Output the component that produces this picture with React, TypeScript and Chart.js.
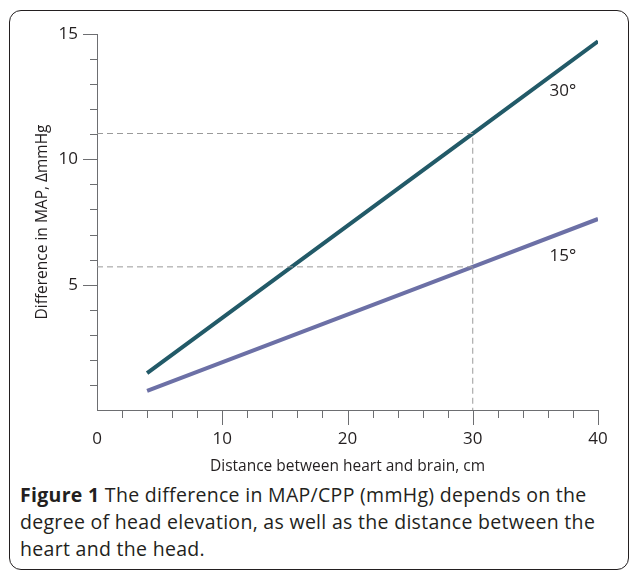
import React, { useEffect, useRef } from "react";
import { Chart, registerables } from "chart.js";

Chart.register(...registerables);

// Data
const distances = [4, 30, 40];
const diff30 = [1.47, 11.03, 14.71];
const diff15 = [0.76, 5.71, 7.62];
const refDistance = 30;
const refValues = [11.03, 5.71];
const angleLabels = ["30°", "15°"];
const angleLabelPos = [
  { x: 37.2, y: 12.7 },
  { x: 37.2, y: 6.15 },
];
const xMajorTicks = [0, 10, 20, 30, 40];
const yMajorTicks = [5, 10, 15];

const FONT = "'Open Sans', 'Noto Sans', sans-serif";
const TEXT = "#231f20";

const tickPlugin = {
  id: "customTicks",
  afterDraw(chart: any) {
    const { ctx } = chart;
    const xs = chart.scales.x;
    const ys = chart.scales.y;
    const axisY = ys.getPixelForValue(0);
    const axisX = xs.getPixelForValue(0);
    ctx.save();
    ctx.strokeStyle = "#6d6e71";
    ctx.lineWidth = 1;
    for (let v = 2; v <= 40; v += 2) {
      const px = Math.round(xs.getPixelForValue(v)) + 0.5;
      const len = xMajorTicks.includes(v) ? 15 : 8;
      ctx.beginPath();
      ctx.moveTo(px, axisY);
      ctx.lineTo(px, axisY + len);
      ctx.stroke();
    }
    for (let v = 1; v <= 15; v += 1) {
      const py = Math.round(ys.getPixelForValue(v)) + 0.5;
      const len = yMajorTicks.includes(v) ? 14 : 7;
      ctx.beginPath();
      ctx.moveTo(axisX, py);
      ctx.lineTo(axisX - len, py);
      ctx.stroke();
    }
    ctx.fillStyle = TEXT;
    ctx.font = `17px ${FONT}`;
    ctx.textAlign = "center";
    ctx.textBaseline = "middle";
    angleLabels.forEach((t, i) => {
      ctx.fillText(
        t,
        xs.getPixelForValue(angleLabelPos[i].x),
        ys.getPixelForValue(angleLabelPos[i].y)
      );
    });
    ctx.restore();
  },
};

export default function App() {
  const canvasRef = useRef<HTMLCanvasElement | null>(null);

  useEffect(() => {
    document.body.style.margin = "0";
    const canvas = canvasRef.current;
    if (!canvas) return;
    const dash = [6, 4];
    const chart = new Chart(canvas, {
      type: "line",
      data: {
        datasets: [
          {
            label: "ref30",
            data: [
              { x: 0, y: refValues[0] },
              { x: refDistance, y: refValues[0] },
              { x: refDistance, y: 0 },
            ],
            borderColor: "#9a9a9a",
            borderWidth: 1,
            borderDash: dash,
            pointRadius: 0,
            fill: false,
          },
          {
            label: "ref15",
            data: [
              { x: 0, y: refValues[1] },
              { x: refDistance, y: refValues[1] },
            ],
            borderColor: "#9a9a9a",
            borderWidth: 1,
            borderDash: dash,
            pointRadius: 0,
            fill: false,
          },
          {
            label: "30°",
            data: distances.map((d, i) => ({ x: d, y: diff30[i] })),
            borderColor: "#225a68",
            borderWidth: 4,
            pointRadius: 0,
            borderCapStyle: "butt",
            fill: false,
          },
          {
            label: "15°",
            data: distances.map((d, i) => ({ x: d, y: diff15[i] })),
            borderColor: "#6c70a6",
            borderWidth: 4,
            pointRadius: 0,
            borderCapStyle: "butt",
            fill: false,
          },
        ],
      },
      options: {
        animation: false,
        responsive: false,
        maintainAspectRatio: false,
        layout: { padding: { left: 0, top: 34, right: 31, bottom: 0 } },
        plugins: {
          legend: { display: false },
          tooltip: { enabled: false },
        },
        scales: {
          x: {
            type: "linear",
            min: 0,
            max: 40,
            afterFit: (s: any) => {
              s.height = 70;
            },
            grid: { display: false, drawTicks: true, tickLength: 15 },
            border: { display: true, color: "#6d6e71", width: 1 },
            ticks: {
              stepSize: 2,
              autoSkip: false,
              maxRotation: 0,
              padding: 4,
              color: TEXT,
              font: { family: FONT, size: 17 },
              callback: (v: any) =>
                xMajorTicks.includes(Number(v)) ? String(v) : "",
            },
            title: {
              display: true,
              text: "Distance between heart and brain, cm",
              color: TEXT,
              font: { family: FONT, size: 15.5 },
              padding: { top: 0, bottom: 4 },
            },
          },
          y: {
            type: "linear",
            min: 0,
            max: 15,
            afterFit: (s: any) => {
              s.width = 97;
            },
            grid: { display: false, drawTicks: true, tickLength: 14 },
            border: { display: true, color: "#6d6e71", width: 1 },
            ticks: {
              stepSize: 1,
              autoSkip: false,
              padding: 5,
              color: TEXT,
              font: { family: FONT, size: 17 },
              callback: (v: any) =>
                yMajorTicks.includes(Number(v)) ? String(v) : "",
            },
            title: {
              display: true,
              text: "Difference in MAP, ΔmmHg",
              color: TEXT,
              font: { family: FONT, size: 15.5 },
              padding: { top: 33, bottom: 0 },
            },
          },
        },
      },
      plugins: [tickPlugin],
    });
    return () => chart.destroy();
  }, []);

  return (
    <div
      style={{
        position: "relative",
        width: 629,
        height: 570,
        overflow: "hidden",
        background: "#fff",
      }}
    >
      <div
        style={{
          position: "absolute",
          left: 9,
          top: 10,
          width: 620,
          height: 560,
          border: "1.5px solid #231f20",
          borderRadius: 12,
          boxSizing: "border-box",
        }}
      />
      <canvas
        ref={canvasRef}
        width={629}
        height={480}
        style={{ position: "absolute", left: 0, top: 0 }}
      />
      <div
        style={{
          position: "absolute",
          left: 20,
          top: 481,
          width: 605,
          fontFamily: FONT,
          fontSize: 19.5,
          fontWeight: 500,
          letterSpacing: "0.3px",
          lineHeight: "27px",
          color: TEXT,
          whiteSpace: "nowrap",
        }}
      >
        <b style={{ fontWeight: 700 }}>Figure 1</b> The difference in MAP/CPP
        (mmHg) depends on the
        <br />
        degree of head elevation, as well as the distance between the
        <br />
        heart and the head.
      </div>
    </div>
  );
}
